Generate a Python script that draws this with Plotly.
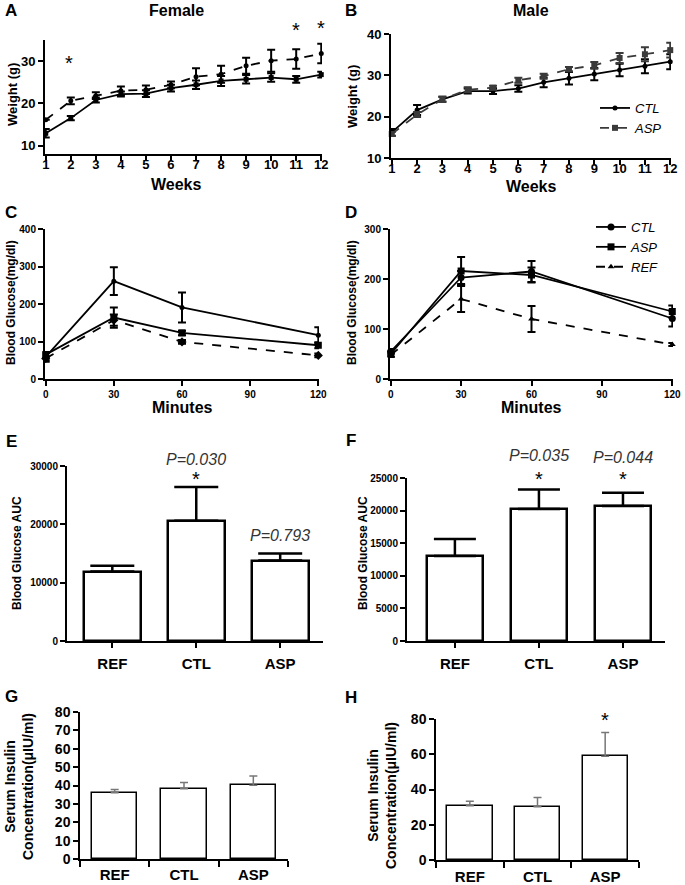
import plotly.graph_objects as go

# ---------------- data ----------------
weeks = list(range(1, 13))
female_ctl = [12.9, 16.5, 20.8, 22.2, 22.3, 23.6, 24.4, 25.3, 25.7, 26.1, 25.7, 26.8]
female_ctl_err = [1.0, 0.5, 0.6, 0.6, 0.8, 0.8, 1.0, 1.2, 1.0, 1.0, 0.8, 0.7]
female_asp = [16.1, 20.6, 21.8, 23.0, 23.2, 24.4, 26.3, 26.9, 28.9, 30.1, 30.5, 31.8]
female_asp_err = [0.0, 0.8, 0.8, 1.0, 1.0, 0.8, 2.0, 2.0, 1.9, 2.6, 2.3, 2.3]

male_ctl = [16.2, 21.6, 24.2, 26.2, 26.2, 26.8, 28.3, 29.3, 30.3, 31.3, 32.2, 33.3]
male_ctl_err = [0.8, 1.2, 0.6, 0.6, 0.7, 0.8, 1.2, 1.5, 1.5, 1.5, 1.7, 1.8]
male_asp = [15.8, 20.5, 24.2, 26.5, 27.0, 28.8, 29.8, 31.5, 32.4, 34.2, 35.1, 36.1]
male_asp_err = [0.5, 0.6, 0.6, 0.6, 0.5, 0.6, 0.6, 0.5, 0.8, 1.2, 1.7, 1.8]

minutes = [0, 30, 60, 120]
f_ctl = [59, 261, 191, 117]
f_ctl_err = [13, 37, 40, 21]
f_asp = [65, 164, 123, 90]
f_asp_err = [6, 27, 6, 8]
f_ref = [55, 157, 99, 63]
f_ref_err = [5, 15, 5, 5]

m_ctl = [55, 203, 215, 121]
m_ctl_err = [5, 13, 21, 16]
m_asp = [50, 216, 208, 135]
m_asp_err = [5, 28, 15, 12]
m_ref = [48, 160, 120, 69]
m_ref_err = [4, 26, 26, 3]

groups = ["REF", "CTL", "ASP"]
auc_f = [11900, 20600, 13800]
auc_f_err = [1000, 5800, 1200]
auc_m = [13050, 20250, 20700]
auc_m_err = [2600, 3000, 2050]
ins_f = [36.0, 38.2, 40.2]
ins_f_err = [1.8, 3.4, 5.0]
ins_m = [30.8, 30.2, 58.8]
ins_m_err = [2.5, 5.3, 13.6]

W, H = 685, 885
FONT = "Liberation Sans, Arial, sans-serif"


def dx(a, b):
    return [a / W, b / W]


def dy(top, bottom):
    return [1 - bottom / H, 1 - top / H]


def px(x):
    return x / W


def py(y):
    return 1 - y / H


fig = go.Figure()


def line_trace(x, y, err, ax, name, dash, symbol, color="black", legend=None, showlegend=False, msize=6):
    fig.add_trace(go.Scatter(
        x=x, y=y, mode="lines+markers", name=name,
        line=dict(color=color, width=1.8, dash=dash),
        marker=dict(symbol=symbol, size=msize, color=color),
        error_y=dict(type="data", array=err, visible=True, color=color, thickness=2, width=4),
        xaxis="x" + ax, yaxis="y" + ax, showlegend=showlegend,
        legend=legend if legend else "legend", cliponaxis=False,
    ))


# A female weight
line_trace(weeks, female_ctl, female_ctl_err, "", "CTL", "solid", "square", msize=5)
line_trace(weeks, female_asp, female_asp_err, "", "ASP", "dash", "circle", msize=5)
# B male weight
line_trace(weeks, male_ctl, male_ctl_err, "2", "CTL", "solid", "circle", showlegend=True, legend="legend", msize=5)
line_trace(weeks, male_asp, male_asp_err, "2", "ASP", "dash", "square", color="#3a3a3a", showlegend=True, legend="legend", msize=6)
# C female OGTT
line_trace(minutes, f_ctl, f_ctl_err, "3", "CTL", "solid", "circle", msize=5)
line_trace(minutes, f_asp, f_asp_err, "3", "ASP", "solid", "square", msize=7)
line_trace(minutes, f_ref, f_ref_err, "3", "REF", "dash", "diamond", msize=7)
# D male OGTT
line_trace(minutes, m_ctl, m_ctl_err, "4", "CTL", "solid", "circle", showlegend=True, legend="legend2", msize=7)
line_trace(minutes, m_asp, m_asp_err, "4", "ASP", "solid", "square", showlegend=True, legend="legend2", msize=7)
line_trace(minutes, m_ref, m_ref_err, "4", "REF", "dash", "triangle-up", showlegend=True, legend="legend2", msize=6)


def bar_trace(y, err, ax, lw, ecolor, ethick, ewidth, bw):
    fig.add_trace(go.Bar(
        x=[0, 1, 2], y=y, width=bw,
        marker=dict(color="white", line=dict(color="black", width=lw)),
        error_y=dict(type="data", symmetric=False, array=err, arrayminus=[0, 0, 0],
                     color=ecolor, thickness=ethick, width=ewidth, visible=True),
        xaxis="x" + ax, yaxis="y" + ax, showlegend=False,
    ))


bar_trace(auc_f, auc_f_err, "5", 2.5, "black", 2.5, 22, 0.68)
bar_trace(auc_m, auc_m_err, "6", 2.5, "black", 2.5, 21, 0.66)
bar_trace(ins_f, ins_f_err, "7", 1.5, "#777777", 1.5, 4, 0.65)
bar_trace(ins_m, ins_m_err, "8", 1.5, "#777777", 1.5, 4, 0.67)

axis_common = dict(showline=True, linecolor="black", linewidth=2, showgrid=False, zeroline=False,
                   ticks="outside", tickcolor="black", tickwidth=2, ticklen=5, automargin=False)


def tf(size):
    return dict(family=FONT, size=size, color="black", weight="bold")


layout_axes = {}
# A
layout_axes["xaxis"] = dict(domain=dx(45, 322), range=[0.97, 12.03], tickvals=weeks, anchor="y",
                            tickfont=tf(13), ticklabelstandoff=-8, **axis_common)
layout_axes["yaxis"] = dict(domain=dy(40, 154), range=[8, 35], tickvals=[10, 20, 30], anchor="x",
                            tickfont=tf(13), **axis_common)
# B
layout_axes["xaxis2"] = dict(domain=dx(391, 671), range=[0.97, 12.03], tickvals=weeks, anchor="y2",
                             tickfont=tf(13), ticklabelstandoff=-8, **axis_common)
layout_axes["yaxis2"] = dict(domain=dy(34, 158), range=[10, 40], tickvals=[10, 20, 30, 40], anchor="x2",
                             tickfont=tf(13), **axis_common)
# C
layout_axes["xaxis3"] = dict(domain=dx(45, 319), range=[-0.3, 120.3], tickvals=[0, 30, 60, 90, 120], anchor="y3",
                             tickfont=tf(10), **axis_common)
layout_axes["yaxis3"] = dict(domain=dy(229, 379), range=[0, 400], tickvals=[0, 100, 200, 300, 400], anchor="x3",
                             tickfont=tf(10), **axis_common)
# D
layout_axes["xaxis4"] = dict(domain=dx(390, 673), range=[-0.3, 120.3], tickvals=[0, 30, 60, 90, 120], anchor="y4",
                             tickfont=tf(10), **axis_common)
layout_axes["yaxis4"] = dict(domain=dy(229, 379), range=[0, 300], tickvals=[0, 100, 200, 300], anchor="x4",
                             tickfont=tf(10), **axis_common)
# E
layout_axes["xaxis5"] = dict(domain=dx(67, 323), range=[-0.54, 2.51], tickvals=[0, 1, 2], ticktext=groups,
                             anchor="y5", tickfont=tf(15), ticklabelstandoff=3, **axis_common)
layout_axes["yaxis5"] = dict(domain=dy(466, 641), range=[0, 30000], tickvals=[0, 10000, 20000, 30000],
                             tickformat="d", anchor="x5", tickfont=tf(10), **axis_common)
# F
layout_axes["xaxis6"] = dict(domain=dx(407, 665), range=[-0.57, 2.5], tickvals=[0, 1, 2], ticktext=groups,
                             anchor="y6", tickfont=tf(15), ticklabelstandoff=3, **axis_common)
layout_axes["yaxis6"] = dict(domain=dy(478, 641), range=[0, 25000], tickformat="d",
                             tickvals=[0, 5000, 10000, 15000, 20000, 25000], anchor="x6", tickfont=tf(10), **axis_common)

excel_x = dict(showline=True, linecolor="black", linewidth=1.5, showgrid=False, zeroline=False, ticks="",
               automargin=False,
               minor=dict(tickmode="array", tickvals=[-0.5, 0.5, 1.5, 2.5], ticks="outside", ticklen=6,
                          tickcolor="black", tickwidth=1.5))
excel_y = dict(showline=True, linecolor="black", linewidth=1.5, showgrid=False, zeroline=False,
               ticks="outside", ticklen=5, tickcolor="black", tickwidth=1.5, automargin=False)
# G
layout_axes["xaxis7"] = dict(domain=dx(80, 288), range=[-0.5, 2.5], tickvals=[0, 1, 2], ticktext=groups,
                             anchor="y7", tickfont=tf(15), ticklabelstandoff=1, **excel_x)
layout_axes["yaxis7"] = dict(domain=dy(712, 859), range=[0, 80], tickvals=list(range(0, 81, 10)), anchor="x7",
                             tickfont=tf(14), **excel_y)
# H
layout_axes["xaxis8"] = dict(domain=dx(436, 639), range=[-0.5, 2.5], tickvals=[0, 1, 2], ticktext=groups,
                             anchor="y8", tickfont=tf(15), ticklabelstandoff=2, **excel_x)
layout_axes["yaxis8"] = dict(domain=dy(719, 860), range=[0, 80], tickvals=[0, 20, 40, 60, 80], anchor="x8",
                             tickfont=tf(14), **excel_y)

annotations = []


def ann(x, y, text, size, bold=True, italic=False, angle=0, color="black", xanchor="center"):
    annotations.append(dict(
        x=px(x), y=py(y), xref="paper", yref="paper", text=text, showarrow=False, textangle=angle,
        xanchor=xanchor, yanchor="middle",
        font=dict(family=FONT, size=size, color=color, weight="bold" if bold else "normal",
                  style="italic" if italic else "normal"),
    ))


# panel letters
for letter, (x, y) in {"A": (11, 11), "B": (351, 11), "C": (11, 213), "D": (351, 213),
                       "E": (11, 441), "F": (351, 440), "G": (11, 696), "H": (351, 697)}.items():
    ann(x, y, letter, 17)

ann(176, 10, "Female", 16)
ann(531, 10, "Male", 16)
ann(12, 95, "Weight (g)", 13, angle=-90)
ann(352, 97, "Weight (g)", 13, angle=-90)
ann(176, 184, "Weeks", 16)
ann(531, 186, "Weeks", 16)
ann(11, 303, "Blood Glucose(mg/dl)", 12, angle=-90)
ann(352, 303, "Blood Glucose(mg/dl)", 12, angle=-90)
ann(182, 407, "Minutes", 16)
ann(531, 407, "Minutes", 16)
ann(17, 553, "Blood Glucose AUC", 12, angle=-90)
ann(363, 553, "Blood Glucose AUC", 12, angle=-90)
ann(19, 787, "Serum Insulin<br>Concentration(μIU/ml)", 14, angle=-90)
ann(382, 796, "Serum Insulin<br>Concentration(μIU/ml)", 14, angle=-90)

# significance marks
ann(69, 63, "*", 20, bold=False)
ann(296, 30, "*", 20, bold=False)
ann(321, 28, "*", 20, bold=False)
ann(196, 459, "P=0.030", 16, bold=False, italic=True, color="#333333")
ann(196, 479, "*", 20, bold=False)
ann(280, 535, "P=0.793", 16, bold=False, italic=True, color="#333333")
ann(539, 455, "P=0.035", 16, bold=False, italic=True, color="#333333")
ann(539, 479, "*", 20, bold=False)
ann(623, 457, "P=0.044", 16, bold=False, italic=True, color="#333333")
ann(623, 479, "*", 20, bold=False)
ann(605, 720, "*", 20, bold=False)

fig.update_layout(
    template="none",
    width=W, height=H, margin=dict(l=0, r=0, t=0, b=0, autoexpand=False),
    paper_bgcolor="white", plot_bgcolor="white",
    font=dict(family=FONT, color="black"),
    showlegend=True,
    legend=dict(x=px(595), y=py(93), xanchor="left", yanchor="top", bgcolor="rgba(0,0,0,0)",
                font=dict(family=FONT, size=13, style="italic", color="black"), itemwidth=30,
                tracegroupgap=0),
    legend2=dict(x=px(591), y=py(212), xanchor="left", yanchor="top", bgcolor="rgba(0,0,0,0)",
                 font=dict(family=FONT, size=13, style="italic", color="black"), itemwidth=30,
                 tracegroupgap=0),
    annotations=annotations,
    bargap=0,
    **layout_axes,
)

fig.write_html("out.html", config={"displayModeBar": False},
               post_script="document.body.style.margin='0';document.body.style.overflow='hidden';")
